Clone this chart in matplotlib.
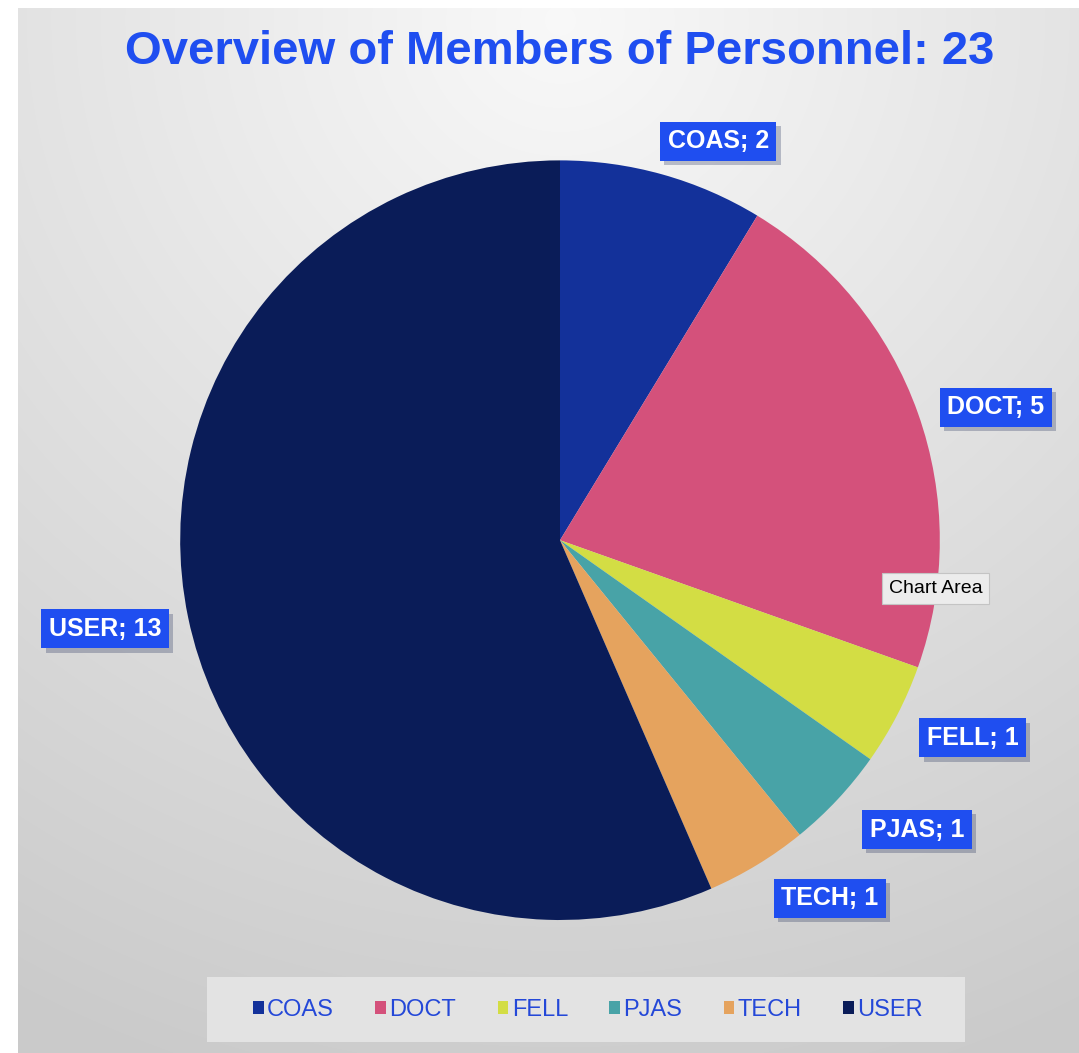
import numpy as np
import matplotlib
matplotlib.use("Agg")
import matplotlib.pyplot as plt
import matplotlib.patheffects as pe
from matplotlib.patches import Patch, Rectangle

categories = ["COAS", "DOCT", "FELL", "PJAS", "TECH", "USER"]
counts = [2, 5, 1, 1, 1, 13]
colors = ["#13319a", "#d4517b", "#d3dd44", "#48a3a7", "#e5a35e", "#0a1c58"]
title = "Overview of Members of Personnel: 23"

# label placement tweaks (radius factor, angle shift in degrees)
label_radius = [1.13, 1.2, 1.205, 1.21, 1.18, 1.22]
label_shift = [-6, -2.6, 1.8, 4, 5.7, -0.7]

plt.rcParams['font.family'] = ['Liberation Sans', 'DejaVu Sans']

fig = plt.figure(figsize=(10.79, 10.53), dpi=100)

# radial gradient background, white margin on left and top
bg = fig.add_axes([0, 0, 1, 1], zorder=-10)
h, w = 1053, 1079
yy, xx = np.mgrid[0:h, 0:w]
d = np.sqrt(((xx - 560) / w) ** 2 + ((yy - 20) / h) ** 2)
shade = 0.975 - 0.18 * np.clip(d / 1.05, 0, 1)
img = np.dstack([shade, shade, shade])
img[:8, :] = 1
img[:, :18] = 1
bg.imshow(img, aspect='auto', extent=[0, 1, 0, 1])
bg.set_axis_off()

# pie
ax = fig.add_axes([0.167, 0.126, 0.704, 0.722])
labels = [f"{c}; {n}" for c, n in zip(categories, counts)]
wedges, texts = ax.pie(counts, colors=colors, startangle=90, counterclock=False,
                       labels=labels, labeldistance=1.16)
ax.set_xlim(-1, 1)
ax.set_ylim(-1, 1)
ax.set_aspect('equal')
for wd, t, r, s in zip(wedges, texts, label_radius, label_shift):
    mid = np.deg2rad((wd.theta1 + wd.theta2) / 2 + s)
    t.set_position((r * np.cos(mid), r * np.sin(mid)))
    t.set_ha('center')
    t.set_va('center')
    t.set_color('white')
    t.set_fontsize(18)
    t.set_fontweight('bold')
    t.set_clip_on(False)
    t.set_bbox(dict(boxstyle='square,pad=0.3', facecolor='#1f4ef0', edgecolor='none'))
    t.get_bbox_patch().set_path_effects([pe.SimplePatchShadow(offset=(3, -3), alpha=0.25),
                                          pe.Normal()])

fig.text(0.519, 0.951, title, ha='center', va='center', fontsize=34,
         fontweight='bold', color='#1f4ef0')

# tooltip
fig.text(0.867, 0.441, "Chart Area", ha='center', va='center', fontsize=14,
         color='black',
         bbox=dict(boxstyle='square,pad=0.35', facecolor='#ececec', edgecolor='#c4c4c4', lw=0.8))

# legend
fig.patches.append(Rectangle((0.192, 0.0104), 0.702, 0.0617, transform=fig.transFigure,
                             facecolor='#e3e3e3', edgecolor='none', zorder=0))
handles = [Patch(facecolor=c, label=l) for c, l in zip(colors, categories)]
leg = fig.legend(handles=handles, loc='center', bbox_to_anchor=(0.545, 0.041),
                 ncol=6, frameon=False, fontsize=17, handlelength=0.45, handleheight=0.45,
                 handletextpad=0.15, columnspacing=1.75)
for t in leg.get_texts():
    t.set_color('#2448d8')

fig.savefig("out.png", dpi=100)
